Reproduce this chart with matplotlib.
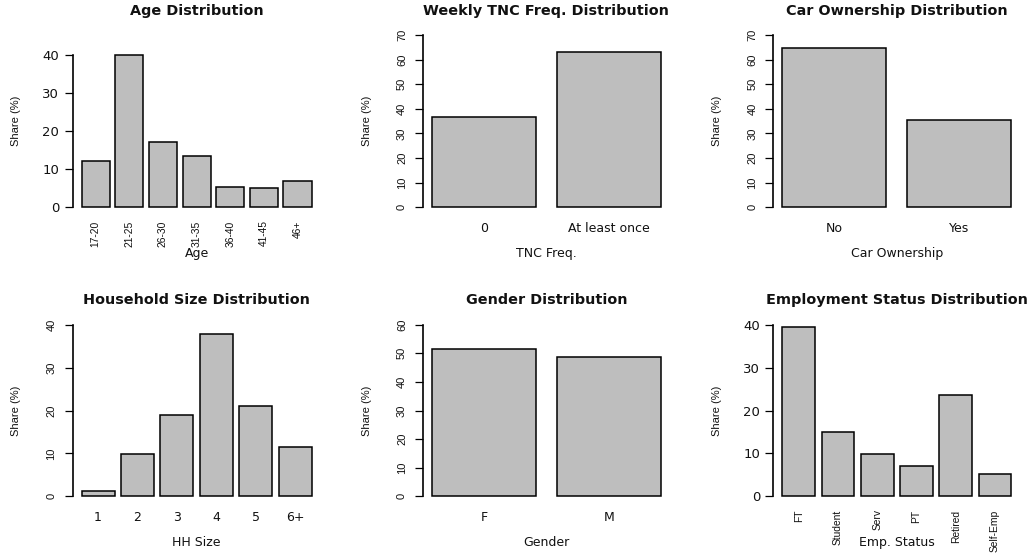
import matplotlib
matplotlib.use("Agg")
import matplotlib.pyplot as plt
from matplotlib import font_manager

# ---------------- data ----------------
age_labels = ["17-20", "21-25", "26-30", "31-35", "36-40", "41-45", "46+"]
age_share = [12.3, 40.0, 17.1, 13.5, 5.3, 5.0, 6.8]

tnc_labels = ["0", "At least once"]
tnc_share = [36.8, 63.2]

car_labels = ["No", "Yes"]
car_share = [64.6, 35.4]

hh_labels = ["1", "2", "3", "4", "5", "6+"]
hh_share = [1.2, 9.8, 18.9, 37.9, 21.0, 11.6]

gender_labels = ["F", "M"]
gender_share = [51.4, 48.6]

emp_labels = ["FT", "Student", "Serv", "PT", "Retired", "Self-Emp"]
emp_share = [39.4, 15.1, 9.8, 7.0, 23.5, 5.3]

# ---------------- fonts ----------------
names = {f.name for f in font_manager.fontManager.ttflist}
NARROW = "Liberation Sans Narrow" if "Liberation Sans Narrow" in names else "Liberation Sans"
WIDE = "DejaVu Sans"
TXT = "#111111"

W, H = 1029, 554
fig = plt.figure(figsize=(W / 100, H / 100), dpi=100)
fig.patch.set_facecolor("white")

col_x = [(72.5, 320.7), (423.0, 669.8), (773.3, 1020.4)]
row_y = [(28.1, 214.2), (317.8, 503.2)]


def panel(row, col, title, cats, vals, xlabel, tick_max, ylim_top, las2):
    x0, x1 = col_x[col]
    y0, y1 = row_y[row]
    ax = fig.add_axes([x0 / W, 1 - y1 / H, (x1 - x0) / W, (y1 - y0) / H])
    n = len(cats)
    pos = [0.7 + 1.2 * i for i in range(n)]
    ax.bar(pos, vals, width=1.0, color="#bebebe", edgecolor="black", linewidth=1.1)
    span = 1.2 * n - 0.2
    ax.set_xlim(0.2 - 0.04 * span, 1.2 * n + 0.04 * span)
    ax.set_ylim(-0.04 * ylim_top, 1.04 * ylim_top)
    for s in ["top", "right", "bottom"]:
        ax.spines[s].set_visible(False)
    ax.spines["left"].set_bounds(0, tick_max)
    ax.spines["left"].set_linewidth(1.2)
    ax.patch.set_alpha(0)
    ticks = list(range(0, tick_max + 1, 10))
    ax.set_yticks(ticks)
    ax.tick_params(axis="y", length=6, width=0.9, direction="out", colors="black")
    ax.tick_params(axis="x", length=0)
    ax.set_xticks(pos)
    if las2:
        ax.set_yticklabels([str(t) for t in ticks], fontfamily=WIDE, fontsize=9.5, color=TXT)
        ax.tick_params(axis="y", pad=3.5)
        ax.set_xticklabels(cats, rotation=90, fontfamily=NARROW, fontsize=7.4, color=TXT)
        ax.tick_params(axis="x", pad=4.5)
    else:
        ax.set_yticklabels([str(t) for t in ticks], rotation=90, va="center",
                           fontfamily=NARROW, fontsize=8, color=TXT)
        ax.tick_params(axis="y", pad=5.5)
        ax.set_xticklabels(cats, fontfamily=WIDE, fontsize=9, color=TXT)
        ax.tick_params(axis="x", pad=5.5)
    hpx = y1 - y0
    wpx = x1 - x0
    ax.set_xlabel(xlabel, fontfamily=WIDE, fontsize=9, color=TXT, va="center")
    ax.xaxis.set_label_coords(0.5, -39.0 / hpx)
    ax.set_ylabel("Share (%)", fontfamily=NARROW, fontsize=8, color=TXT, va="center")
    ax.yaxis.set_label_coords(-56.5 / wpx, 0.5)
    ax.text(0.5, 1 + (16.8 if row == 0 else 18.0) / hpx, title, transform=ax.transAxes,
            ha="center", va="center", fontfamily=WIDE, fontweight="bold",
            fontsize=10.4, color=TXT)
    return ax


panel(0, 0, "Age Distribution", age_labels, age_share, "Age", 40, 45.4, True)
panel(0, 1, "Weekly TNC Freq. Distribution", tnc_labels, tnc_share, "TNC Freq.", 70, 70, False)
panel(0, 2, "Car Ownership Distribution", car_labels, car_share, "Car Ownership", 70, 70, False)
panel(1, 0, "Household Size Distribution", hh_labels, hh_share, "HH Size", 40, 40, False)
panel(1, 1, "Gender Distribution", gender_labels, gender_share, "Gender", 60, 60, False)
panel(1, 2, "Employment Status Distribution", emp_labels, emp_share, "Emp. Status", 40, 40, True)

fig.savefig("out.png", dpi=100, facecolor="white")
